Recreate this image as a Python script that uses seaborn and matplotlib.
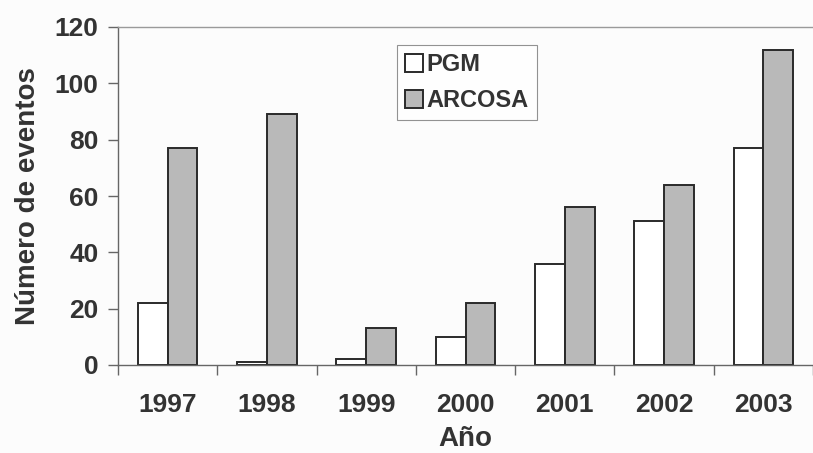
import matplotlib
matplotlib.use("Agg")
import matplotlib.pyplot as plt
import seaborn as sns
import pandas as pd
import numpy as np

years = ["1997", "1998", "1999", "2000", "2001", "2002", "2003"]
pgm = [22, 1, 2, 10, 36, 51, 77]
arcosa = [77, 89, 13, 22, 56, 64, 112]
series_names = ["PGM", "ARCOSA"]
y_ticks = [0, 20, 40, 60, 80, 100, 120]

df = pd.DataFrame({
    "Año": years * 2,
    "valor": pgm + arcosa,
    "serie": [series_names[0]] * len(years) + [series_names[1]] * len(years),
})

sns.set_theme(style="white")
plt.rcParams['font.family'] = ['Liberation Sans', 'DejaVu Sans']
plt.rcParams['font.weight'] = 'bold'
txt = '#333333'

fig = plt.figure(figsize=(8.13, 4.53), dpi=100)
fig.patch.set_facecolor('#fcfcfc')
ax = fig.add_axes([118/813, 1-365/453, 1-118/813, (365-27)/453])
ax.set_facecolor('#fcfcfc')

sns.barplot(data=df, x="Año", y="valor", hue="serie", order=years, hue_order=series_names,
            palette={"PGM": "white", "ARCOSA": "#b9b9b9"}, width=0.6,
            edgecolor='#2a2a2a', linewidth=1.4, ax=ax, legend=True)

ax.set_ylim(0, 120)
ax.set_xlim(-0.5, 6.42)
ax.set_yticks(y_ticks)
ax.set_yticklabels([str(v) for v in y_ticks], fontsize=19, fontweight='bold', color=txt)
ax.tick_params(axis='y', which='major', direction='out', length=7, width=1, color='#666666', pad=7, left=True)
ax.tick_params(axis='x', which='major', length=0, pad=20, labelsize=19, labelcolor=txt)
for lab in ax.get_xticklabels():
    lab.set_fontweight('bold')
ax.set_xticks(np.arange(-0.5, 7, 1), minor=True)
ax.tick_params(axis='x', which='minor', direction='out', length=7, width=1, color='#666666', bottom=True)

ax.set_xlabel("Año", fontsize=20, fontweight='bold', color=txt, labelpad=7)
ax.set_ylabel("Número de eventos", fontsize=20, fontweight='bold', color=txt, labelpad=10)

for s in ['left', 'bottom', 'top']:
    ax.spines[s].set_visible(True)
    ax.spines[s].set_color('#666666')
    ax.spines[s].set_linewidth(1)
ax.spines['top'].set_color('#9a9a9a')
ax.spines['right'].set_visible(False)

handles, labels = ax.get_legend_handles_labels()
leg = ax.legend(handles, labels, loc='upper left', bbox_to_anchor=(0.401, 0.947), borderaxespad=0,
                frameon=True, fancybox=False, edgecolor='#777777', prop={'size': 17, 'weight': 'bold'},
                handlelength=0.75, handleheight=0.75, handletextpad=0.15, labelspacing=0.55,
                borderpad=0.35, title=None)
for t in leg.get_texts():
    t.set_color(txt)
leg.get_frame().set_linewidth(0.8)

fig.savefig("out.png", dpi=100, facecolor=fig.get_facecolor())
